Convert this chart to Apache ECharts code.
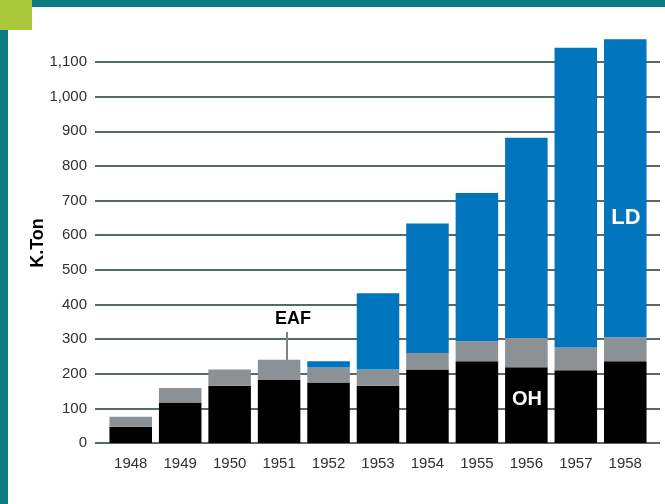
<!DOCTYPE html>
<html>
<head>
<meta charset="utf-8">
<script src="https://cdn.jsdelivr.net/npm/echarts@6/dist/echarts.min.js"></script>
<style>
html,body{margin:0;padding:0;background:#fff;}
#chart{width:665px;height:504px;}
</style>
</head>
<body>
<div id="chart"></div>
<script>
var years = ['1948','1949','1950','1951','1952','1953','1954','1955','1956','1957','1958'];
var ohValues  = [47, 117, 165, 182, 175, 165, 212, 236, 219, 210, 236];
var eafValues = [29, 42, 47, 58, 43, 47, 48, 58, 84, 66, 69];
var ldValues  = [null, null, null, null, 18, 220, 374, 428, 578, 865, 861];
var yMin = 0, yMax = 1100, yStep = 100;

var FONT = 'Liberation Sans, Arial, sans-serif';
var chart = echarts.init(document.getElementById('chart'), null, {renderer:'canvas'});

var option = {
  backgroundColor: '#ffffff',
  animation: false,
  grid: [
    {left: 95, right: 5, top: 62, bottom: 61, containLabel: false},
    {left: 106, right: 15, top: 62, bottom: 61, containLabel: false}
  ],
  xAxis: [
    {gridIndex: 0, type: 'value', show: false, min: 0, max: 1},
    {gridIndex: 1, type: 'category', data: years,
     axisLine: {show: false}, axisTick: {show: false},
     axisLabel: {margin: 13, fontSize: 15, color: '#303030', fontFamily: FONT}}
  ],
  yAxis: [
    {gridIndex: 0, type: 'value', min: yMin, max: yMax, interval: yStep,
     axisLine: {show: false}, axisTick: {show: false},
     splitLine: {show: true, lineStyle: {color: '#56696b', width: 1.8}},
     axisLabel: {margin: 8, fontSize: 15, color: '#303030', fontFamily: FONT,
       formatter: function(v){ return v.toLocaleString('en-US'); }}},
    {gridIndex: 1, type: 'value', min: yMin, max: yMax, interval: yStep, show: false,
     splitLine: {show: false}}
  ],
  series: [
    {name: 'OH', type: 'bar', stack: 'steel', xAxisIndex: 1, yAxisIndex: 1,
     data: ohValues, barCategoryGap: '14%', clip: false,
     itemStyle: {color: '#000000'}},
    {name: 'EAF', type: 'bar', stack: 'steel', xAxisIndex: 1, yAxisIndex: 1,
     data: eafValues, barCategoryGap: '14%', clip: false,
     itemStyle: {color: '#8c9196'}},
    {name: 'LD', type: 'bar', stack: 'steel', xAxisIndex: 1, yAxisIndex: 1,
     data: ldValues, barCategoryGap: '14%', clip: false,
     itemStyle: {color: '#0074bd'}}
  ],
  graphic: [
    {type: 'rect', shape: {x: 0, y: 0, width: 665, height: 7}, style: {fill: '#0b7c80'}, z: 100},
    {type: 'rect', shape: {x: 0, y: 0, width: 8, height: 504}, style: {fill: '#0b7c80'}, z: 100},
    {type: 'rect', shape: {x: 0, y: 0, width: 32, height: 30}, style: {fill: '#a9c93b'}, z: 101},
    {type: 'text', x: 38, y: 243, rotation: Math.PI/2,
     style: {text: 'K.Ton', font: 'bold 18px ' + FONT, fill: '#000', textAlign: 'center', textVerticalAlign: 'middle'}, z: 100},
    {type: 'text', x: 293, y: 319,
     style: {text: 'EAF', font: 'bold 18px ' + FONT, fill: '#000', textAlign: 'center', textVerticalAlign: 'middle'}, z: 100},
    {type: 'line', shape: {x1: 287, y1: 332, x2: 287, y2: 360}, style: {stroke: '#7d8387', lineWidth: 2}, z: 100},
    {type: 'text', x: 527, y: 399,
     style: {text: 'OH', font: 'bold 20px ' + FONT, fill: '#fff', textAlign: 'center', textVerticalAlign: 'middle'}, z: 100},
    {type: 'text', x: 626, y: 218,
     style: {text: 'LD', font: 'bold 22px ' + FONT, fill: '#fff', textAlign: 'center', textVerticalAlign: 'middle'}, z: 100}
  ]
};
chart.setOption(option);
</script>
</body>
</html>
